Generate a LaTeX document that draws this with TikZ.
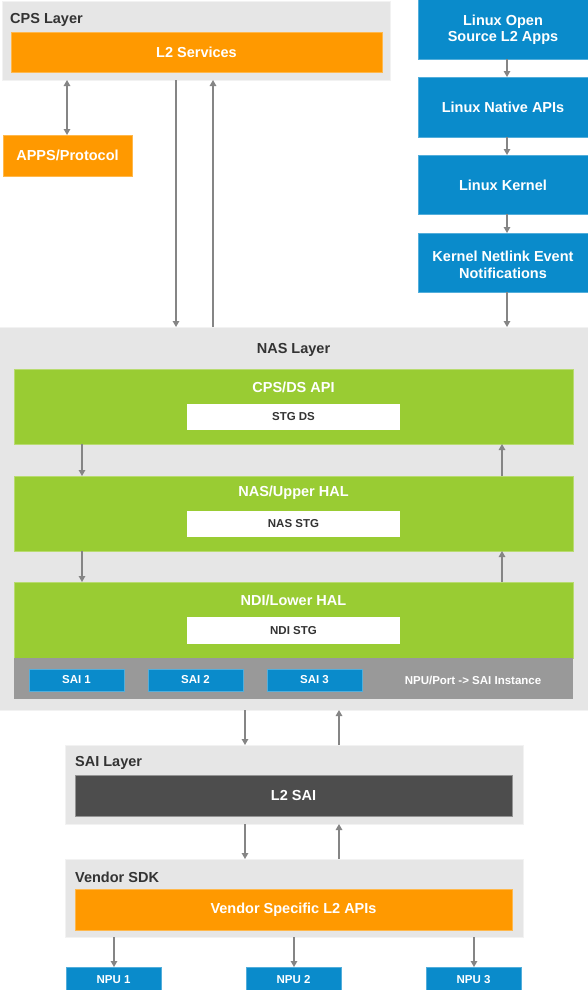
\documentclass[tikz,border=0pt]{standalone}
\usepackage{fontspec}
\setmainfont{Liberation Sans}
\usetikzlibrary{arrows.meta}
\definecolor{lay}{HTML}{E6E6E6}
\definecolor{org}{HTML}{FF9900}
\definecolor{blu}{HTML}{0A8BCB}
\definecolor{grn}{HTML}{99CC33}
\definecolor{strip}{HTML}{999999}
\definecolor{dark}{HTML}{4D4D4D}
\definecolor{txt}{HTML}{333333}
\definecolor{arr}{HTML}{858585}
\newcommand\bx[7]{\node[#1, minimum width={#5pt-#3pt}, minimum height={#6pt-#4pt}] (#2) at (#3,#4) {};}
\tikzset{
  base/.style={inner sep=0pt, outer sep=0pt, anchor=north west},
  big/.style={font=\bfseries\fontsize{14.5}{16.5}\selectfont},
  small/.style={font=\bfseries\fontsize{11.5}{13}\selectfont},
  layer/.style={base, fill=lay, draw=lay!50!white, line width=1pt},
  obox/.style={base, fill=org, draw=org!70!white, line width=0.6pt},
  bbox/.style={base, fill=blu, draw=blu!70!white, line width=0.6pt},
  gbox/.style={base, fill=grn, draw=grn!70!white, line width=0.6pt},
  wbox/.style={base, fill=white},
  sbox/.style={base, fill=strip},
  dbox/.style={base, fill=dark, draw=dark!60!white, line width=0.6pt},
  wt/.style={text=white, align=center, inner sep=0pt},
  dt/.style={text=txt, align=center, inner sep=0pt},
  arw/.style={draw=arr, line width=1.3pt, -{Triangle[length=6pt,width=6.5pt]}},
  darw/.style={draw=arr, line width=1.3pt, {Triangle[length=6pt,width=6.5pt]}-{Triangle[length=6pt,width=6.5pt]}}
}
\begin{document}
\begin{tikzpicture}[x=1pt,y=-1pt]
\useasboundingbox (0,0) rectangle (588,990);
\fill[white] (0,0) rectangle (588,990);
% CPS layer
\bx{layer}{cps}{2}{2}{390}{80}{}
\node[dt,big,anchor=west] (cpst) at (10,20) {CPS Layer};
\bx{obox}{l2svc}{11}{32}{382}{72}{}
\node[wt,big] (l2svct) at (l2svc.center) {L2 Services};
\bx{obox}{apps}{3}{135}{132}{176}{}
\node[wt,big] (appst) at (apps.center) {APPS/Protocol};
% Linux column
\bx{bbox}{lx1}{418}{-2}{589}{59}{}
\node[wt,big] (lx1t) at (503,30) {Linux Open\\Source L2 Apps};
\bx{bbox}{lx2}{418}{77}{589}{137}{}
\node[wt,big] (lx2t) at (503,107) {Linux Native APIs};
\bx{bbox}{lx3}{418}{155}{589}{214}{}
\node[wt,big] (lx3t) at (503,185) {Linux Kernel};
\bx{bbox}{lx4}{418}{233}{589}{292}{}
\node[wt,big] (lx4t) at (503,265) {Kernel Netlink Event\\Notifications};
% NAS layer
\bx{layer}{nas}{-1}{327}{589}{710}{}
\node[dt,big] (nast) at (293.5,350) {NAS Layer};
\bx{gbox}{cpsds}{14}{369}{573}{444}{}
\node[wt,big] (cpsdst) at (293.5,387) {CPS/DS API};
\bx{wbox}{stgds}{187}{404}{400}{430}{}
\node[dt,small] (stgdst) at (stgds.center) {STG DS};
\bx{gbox}{upper}{14}{476}{573}{551}{}
\node[wt,big] (uppert) at (293.5,493) {NAS/Upper HAL};
\bx{wbox}{nasstg}{187}{511}{400}{537}{}
\node[dt,small] (nasstgt) at (nasstg.center) {NAS STG};
\bx{gbox}{lower}{14}{582}{573}{658}{}
\node[wt,big] (lowert) at (293.5,600) {NDI/Lower HAL};
\bx{wbox}{ndistg}{187}{617}{400}{644}{}
\node[dt,small] (ndistgt) at (ndistg.center) {NDI STG};
\bx{sbox}{strip}{14}{658}{573}{699}{}
\bx{bbox}{sai1}{29}{669}{124}{691}{}
\node[wt,small] (sai1t) at (sai1.center) {SAI 1};
\bx{bbox}{sai2}{148}{669}{243}{691}{}
\node[wt,small] (sai2t) at (sai2.center) {SAI 2};
\bx{bbox}{sai3}{267}{669}{362}{691}{}
\node[wt,small] (sai3t) at (sai3.center) {SAI 3};
\node[wt,small] (note) at (473,680) {NPU/Port -> SAI Instance};
% SAI layer
\bx{layer}{sail}{65}{745}{523}{824}{}
\node[dt,big,anchor=west] (sailt) at (75,763) {SAI Layer};
\bx{dbox}{l2sai}{75}{775}{512}{816}{}
\node[wt,big] (l2sait) at (l2sai.center) {L2 SAI};
% Vendor SDK
\bx{layer}{vend}{65}{859}{523}{937}{}
\node[dt,big,anchor=west] (vendt) at (75,877) {Vendor SDK};
\bx{obox}{vsl2}{75}{889}{512}{930}{}
\node[wt,big] (vsl2t) at (vsl2.center) {Vendor Specific L2 APIs};
% NPUs
\bx{bbox}{npu1}{66}{967}{161}{993}{}
\node[wt,small] (npu1t) at (113.5,979.5) {NPU 1};
\bx{bbox}{npu2}{246}{967}{341}{993}{}
\node[wt,small] (npu2t) at (293.5,979.5) {NPU 2};
\bx{bbox}{npu3}{426}{967}{521}{993}{}
\node[wt,small] (npu3t) at (473.5,979.5) {NPU 3};
% connectors
\draw[darw] (67,0 |- cps.south) -- (67,0 |- apps.north);
\draw[arw] (176,0 |- cps.south) -- (176,0 |- nas.north);
\draw[arw] (213,0 |- nas.north) -- (213,0 |- cps.south);
\draw[arw] (507,0 |- lx1.south) -- (507,0 |- lx2.north);
\draw[arw] (507,0 |- lx2.south) -- (507,0 |- lx3.north);
\draw[arw] (507,0 |- lx3.south) -- (507,0 |- lx4.north);
\draw[arw] (507,0 |- lx4.south) -- (507,0 |- nas.north);
\draw[arw] (82,0 |- cpsds.south) -- (82,0 |- upper.north);
\draw[arw] (82,0 |- upper.south) -- (82,0 |- lower.north);
\draw[arw] (502,0 |- upper.north) -- (502,0 |- cpsds.south);
\draw[arw] (502,0 |- lower.north) -- (502,0 |- upper.south);
\draw[arw] (245,0 |- nas.south) -- (245,0 |- sail.north);
\draw[arw] (339,0 |- sail.north) -- (339,0 |- nas.south);
\draw[arw] (245,0 |- sail.south) -- (245,0 |- vend.north);
\draw[arw] (339,0 |- vend.north) -- (339,0 |- sail.south);
\draw[arw] (114,0 |- vend.south) -- (114,0 |- npu1.north);
\draw[arw] (294,0 |- vend.south) -- (294,0 |- npu2.north);
\draw[arw] (474,0 |- vend.south) -- (474,0 |- npu3.north);
\end{tikzpicture}
\end{document}
